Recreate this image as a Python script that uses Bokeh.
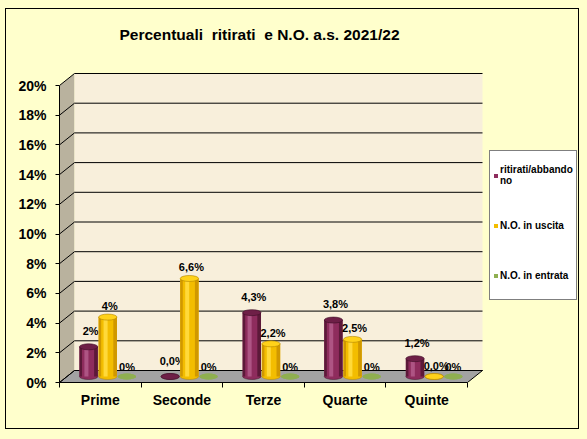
from bokeh.plotting import figure
from bokeh.models import Range1d, LinearAxis, FixedTicker, Legend, LegendItem, Title
from bokeh.core.properties import value
from bokeh.embed import file_html
from bokeh.resources import INLINE

# ---------------- data ----------------
categories = ["Prime", "Seconde", "Terze", "Quarte", "Quinte"]
series_names = ["ritirati/abbando\nno", "N.O. in uscita", "N.O. in entrata"]
ritirati = [2.0, 0.0, 4.3, 3.8, 1.2]
no_uscita = [4.0, 6.6, 2.2, 2.5, 0.0]
no_entrata = [0.0, 0.0, 0.0, 0.0, 0.0]
ritirati_labels = ["2%", "0,0%", "4,3%", "3,8%", "1,2%"]
uscita_labels = ["4%", "6,6%", "2,2%", "2,5%", "0,0%"]
entrata_labels = ["0%", "0%", "0%", "0%", "0%"]
y_ticks = [0, 2, 4, 6, 8, 10, 12, 14, 16, 18, 20]
y_tick_labels = ["0%", "2%", "4%", "6%", "8%", "10%", "12%", "14%", "16%", "18%", "20%"]
title_text = "Percentuali\u00a0 ritirati\u00a0 e N.O. a.s. 2021/22"

# ---------------- geometry / style ----------------
FONT = "Liberation Sans"
W, H = 574, 421
ML, MR, MT, MB = 53, 2, 0, 48
FRAME_TOP = 61
PX_X = 81.6          # px per category on the front plane
PX_Y = 14.85         # px per percentage point
X_END = (W - ML - MR) / PX_X
Y_END = (H - FRAME_TOP - MB) / PX_Y
DX = 15 / PX_X       # depth offset (x)
DY = 12 / PX_Y       # depth offset (y)
N = len(categories)
Y_MAX = y_ticks[-1]
BW = 0.225
OFFS = [-0.235, 0.0, 0.235]
STYLES = [
    dict(body="#8E2C5D", dark="#5C1939", light="#AE5484", top="#6E1F47", edge="#3E0F27"),
    dict(body="#F3BD00", dark="#D09800", light="#FFD93A", top="#FFD21A", edge="#B08300"),
    dict(body="#8FAF50", dark="#7A9A40", light="#A4C164", top="#8FAF50", edge=None),
]
LBL_OFF = [(2, -16), (2, -11), (0, -10)]

p = figure(width=W, height=H, x_range=Range1d(0, X_END), y_range=Range1d(0, Y_END),
           output_backend="svg", toolbar_location=None,
           x_axis_type=None, y_axis_type=None,
           min_border_left=ML, min_border_right=MR, min_border_top=MT, min_border_bottom=MB,
           background_fill_color="#FFFFCC", border_fill_color="#FFFFCC",
           outline_line_color=None, title=title_text)
p.styles = {"border": "1px solid black"}

p.title.text_font = FONT
p.title.text_font_size = "15.5px"
p.title.text_font_style = "bold"
p.title.text_color = "black"
p.title.align = "left"
p.title.offset = 60
p.title.standoff = 28
# spacer between the title and the plot area
p.add_layout(Title(text=" ", text_font_size="2px", standoff=10, text_color="#FFFFCC"), "above")

# ---------------- 3D walls ----------------
p.patch([0, DX, DX, 0], [0, DY, Y_MAX + DY, Y_MAX], fill_color="#B9B29E", line_color=None)
p.quad(left=DX, right=N + DX, bottom=DY, top=Y_MAX + DY, fill_color="#F8EFDB", line_color=None)
p.patch([0, N, N + DX, DX], [0, 0, DY, DY], fill_color="#A2A2A2", line_color="black", line_width=1)
p.segment(x0=[DX] * len(y_ticks), y0=[t + DY for t in y_ticks],
          x1=[N + DX] * len(y_ticks), y1=[t + DY for t in y_ticks], line_color="black", line_width=1)
p.segment(x0=[0] * len(y_ticks), y0=y_ticks,
          x1=[DX] * len(y_ticks), y1=[t + DY for t in y_ticks], line_color="black", line_width=1)

# ---------------- cylinders ----------------
series = [ritirati, no_uscita, no_entrata]
labels = [ritirati_labels, uscita_labels, entrata_labels]
base = DY / 2
body_renderers = []
for k, vals in enumerate(series):
    st = STYLES[k]
    xs = [i + 0.5 + DX / 2 + OFFS[k] for i in range(N)]
    tops = [base + v for v in vals]
    bases = [base] * N
    p.ellipse(x=xs, y=bases, width=BW, height=6, height_units="screen",
              fill_color=st["body"], line_color=st["edge"], line_width=0.5)
    r = p.vbar(x=xs, width=BW, bottom=bases, top=tops, fill_color=st["body"], line_color=None)
    body_renderers.append(r)
    p.vbar(x=[x - BW * 0.43 for x in xs], width=BW * 0.14, bottom=bases, top=tops,
           fill_color=st["dark"], line_color=None)
    p.vbar(x=[x - BW * 0.12 for x in xs], width=BW * 0.22, bottom=bases, top=tops,
           fill_color=st["light"], line_color=None)
    p.vbar(x=[x + BW * 0.40 for x in xs], width=BW * 0.20, bottom=bases, top=tops,
           fill_color=st["dark"], line_color=None)
    p.ellipse(x=xs, y=tops, width=BW, height=6, height_units="screen",
              fill_color=st["top"], line_color=st["edge"], line_width=0.6)
    p.text(x=xs, y=tops, text=labels[k], x_offset=LBL_OFF[k][0], y_offset=LBL_OFF[k][1],
           text_align="center", text_baseline="middle", text_font=value(FONT),
           text_font_size="11px", text_font_style="bold", text_color="black")

# ---------------- axes ----------------
yaxis = LinearAxis(ticker=FixedTicker(ticks=y_ticks), bounds=(0, Y_MAX),
                   major_label_overrides={float(t): s for t, s in zip(y_ticks, y_tick_labels)},
                   major_tick_in=0, major_tick_out=4, minor_tick_line_color=None,
                   major_label_text_font=FONT, major_label_text_font_size="14px",
                   major_label_text_font_style="bold", major_label_text_color="black",
                   major_label_standoff=9,
                   axis_line_color="black", major_tick_line_color="black")
p.add_layout(yaxis, "left")

xticks = list(range(N + 1))
xaxis1 = LinearAxis(ticker=FixedTicker(ticks=xticks), bounds=(0, N),
                    major_label_overrides={float(t): "" for t in xticks},
                    major_tick_in=0, major_tick_out=5, minor_tick_line_color=None,
                    major_label_text_font_size="1px", major_label_standoff=0,
                    axis_line_color="black", major_tick_line_color="black")
p.add_layout(xaxis1, "below")

cat_ticks = [i + 0.5 for i in range(N)]
xaxis2 = LinearAxis(ticker=FixedTicker(ticks=cat_ticks),
                    major_label_overrides={float(t): c for t, c in zip(cat_ticks, categories)},
                    major_tick_in=0, major_tick_out=0, minor_tick_line_color=None,
                    major_tick_line_color=None, axis_line_color=None,
                    major_label_text_font=FONT, major_label_text_font_size="14px",
                    major_label_text_font_style="bold", major_label_text_color="black",
                    major_label_standoff=4)
p.add_layout(xaxis2, "below")

# ---------------- legend (inside the frame, right of the walls) ----------------
legend = Legend(items=[LegendItem(label=series_names[k], renderers=[body_renderers[k]]) for k in range(3)],
                location=(430, 82), orientation="vertical", margin=0, padding=3, spacing=8,
                glyph_width=5, glyph_height=5, label_width=73, label_height=42, label_standoff=2,
                label_text_font=FONT, label_text_font_size="10px", label_text_font_style="bold",
                label_text_color="black",
                border_line_color="black", border_line_width=1,
                background_fill_color="white", background_fill_alpha=1.0)
p.add_layout(legend)

html = file_html(p, INLINE)
i = html.rfind("<body")
if i >= 0:
    html = html[:i] + '<body style="background-color:#FFFFCC; padding:8px 0 0 5px; margin:0;"' + html[i + 5:]
open("out.html", "w").write(html)
